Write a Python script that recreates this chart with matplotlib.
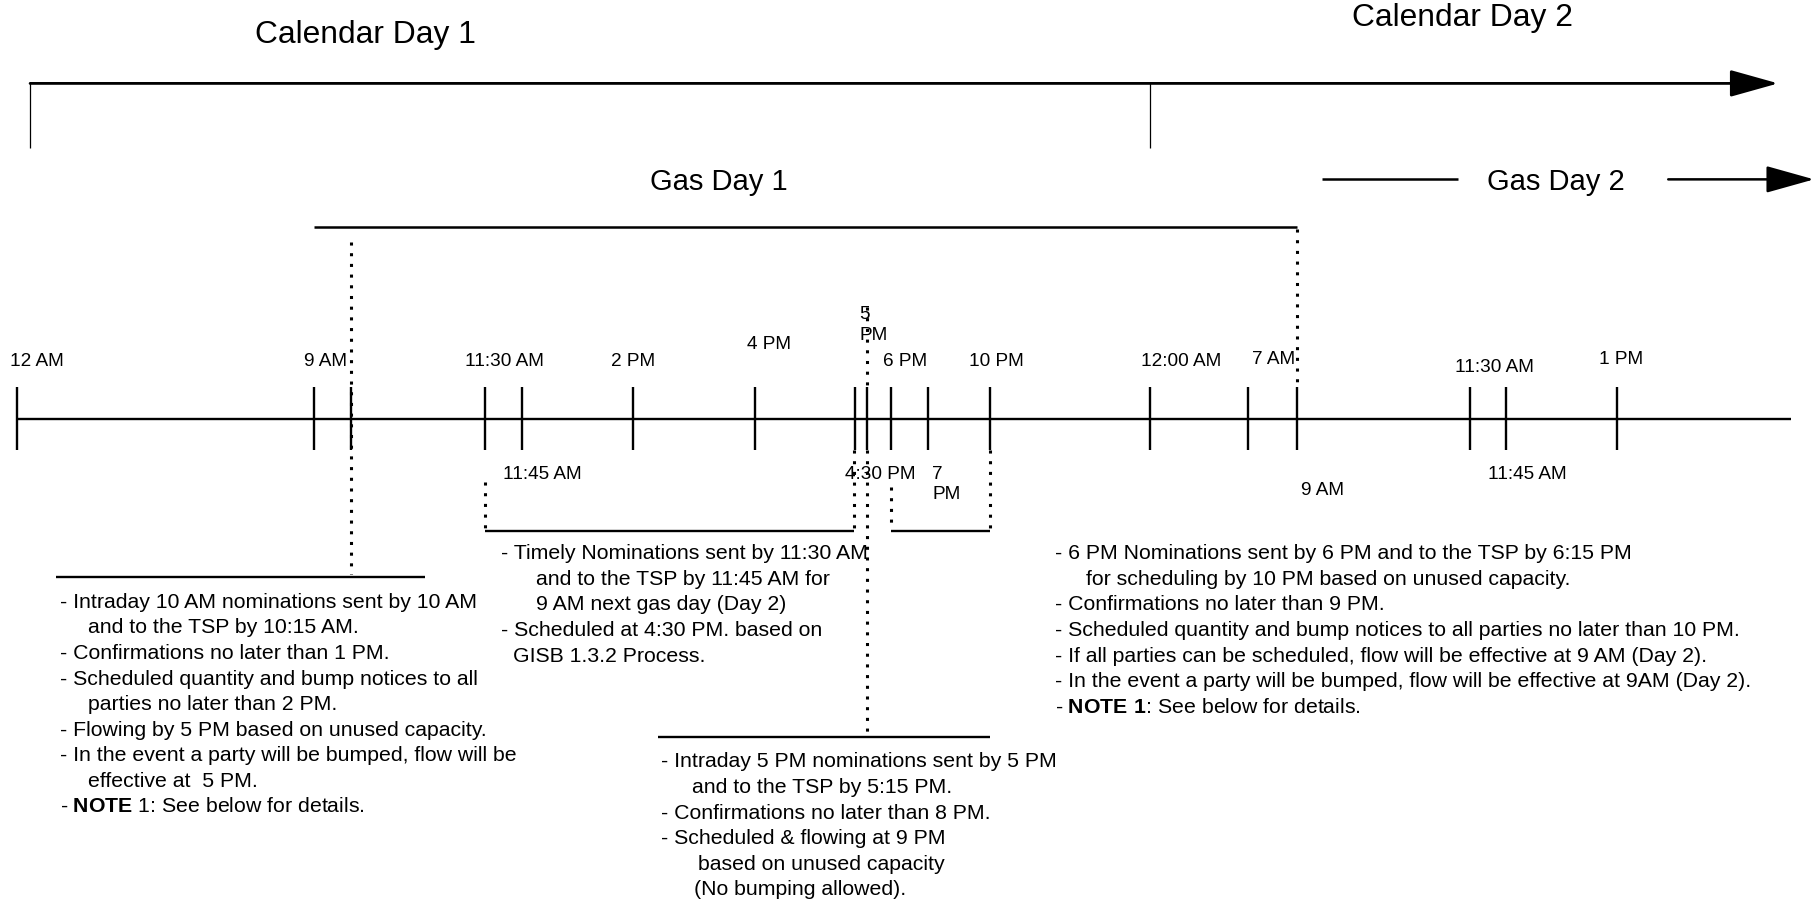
# Gas day / calendar day nomination timeline (schematic)
import matplotlib
matplotlib.use("Agg")
import matplotlib.pyplot as plt

OUT_PNG = "out.png"

# drawing canvas in schematic units (y grows downward)
W, H = 1568, 781

plt.rcParams["font.family"] = ["Liberation Sans", "DejaVu Sans"]
plt.rcParams["mathtext.fontset"] = "custom"
plt.rcParams["mathtext.rm"] = "Liberation Sans"
plt.rcParams["mathtext.bf"] = "Liberation Sans:bold"

# ---- data ----------------------------------------------------------------
# event marks on the timeline (schematic position, not linear in time)
tick_pos = [15, 271, 303, 419, 451, 547, 653, 739, 749, 770, 802, 856,
            994, 1079, 1121, 1271, 1302, 1398]

labels_above = ["12 AM", "9 AM", "11:30 AM", "2 PM", "4 PM", "5\nPM", "6 PM",
                "10 PM", "12:00 AM", "7 AM", "11:30 AM", "1 PM"]
labels_below = ["11:45 AM", "4:30 PM", "7\nPM", "9 AM", "11:45 AM"]

calendar_titles = ["Calendar Day 1", "Calendar Day 2"]
gas_titles = ["Gas Day 1", "Gas Day 2"]

block_intraday_am = [
    "- Intraday 10 AM nominations sent by 10 AM",
    "and to the TSP by 10:15 AM.",
    "- Confirmations no later than 1 PM.",
    "- Scheduled quantity and bump notices to all",
    "parties no later than 2 PM.",
    "- Flowing by 5 PM based on unused capacity.",
    "- In the event a party will be bumped, flow will be",
    "effective at  5 PM.",
    r"- $\mathbf{NOTE}$ 1: See below for details.",
]
block_timely = [
    "- Timely Nominations sent by 11:30 AM",
    "and to the TSP by 11:45 AM for",
    "9 AM next gas day (Day 2)",
    "- Scheduled at 4:30 PM. based on",
    "GISB 1.3.2 Process.",
]
block_intraday_pm = [
    "- Intraday 5 PM nominations sent by 5 PM",
    "and to the TSP by 5:15 PM.",
    "- Confirmations no later than 8 PM.",
    "- Scheduled & flowing at 9 PM",
    "based on unused capacity",
    "(No bumping allowed).",
]
block_evening = [
    "- 6 PM Nominations sent by 6 PM and to the TSP by 6:15 PM",
    "for scheduling by 10 PM based on unused capacity.",
    "- Confirmations no later than 9 PM.",
    "- Scheduled quantity and bump notices to all parties no later than 10 PM.",
    "- If all parties can be scheduled, flow will be effective at 9 AM (Day 2).",
    "- In the event a party will be bumped, flow will be effective at 9AM (Day 2).",
    r"- $\mathbf{NOTE\ 1}$: See below for details.",
]

# ---- layout ----------------------------------------------------------------
LINE_Y = 363
TICK_HALF = 27
above_xy = [(32, 313), (281, 313), (436, 313), (547, 313), (665, 298),
            (743, 281), (782, 313), (861, 313), (1021, 313), (1101, 311),
            (1292, 318), (1401, 311)]
below_xy = [(469, 410), (761, 410), (806, 419), (1143, 424), (1320, 410)]

# (lines, first x, continuation x, first y) per block
block_layout = [
    (block_intraday_am, 52, 76, 521),
    (block_timely, 433, 463, 479),
    (block_intraday_pm, 571, 598, 659),
    (block_evening, 912, 939, 479),
]
cont_x_override = {("GISB", 433): 443, ("based", 571): 603, ("(No", 571): 600}
LINE_STEP = 22.1

BODY_FS = 15.3
LABEL_FS = 13.7

DOT = dict(color="black", lw=2.2, linestyle=(0, (1, 2.5)))
SOLID = dict(color="black", lw=1.7)

fig = plt.figure(figsize=(18.14, 9.03), dpi=100)
ax = fig.add_axes([0, 0, 1, 1])
ax.set_xlim(0, W)
ax.set_ylim(H, 0)
ax.set_axis_off()

# calendar days
ax.text(316, 30, calendar_titles[0], fontsize=22.9, ha="center", va="center")
ax.text(1264, 16, calendar_titles[1], fontsize=22.9, ha="center", va="center")
ax.annotate("", xy=(1537, 73), xytext=(26, 73),
            arrowprops=dict(arrowstyle="-|>,head_length=1.5,head_width=0.42",
                            mutation_scale=20, color="black", lw=2.0,
                            shrinkA=0, shrinkB=0))
ax.vlines([26, 994], 73, 129, color="black", lw=0.9)

# gas days
ax.text(621, 157, gas_titles[0], fontsize=21, ha="center", va="center")
ax.text(1345, 157, gas_titles[1], fontsize=21, ha="center", va="center")
ax.hlines(156, 1143, 1260, color="black", lw=1.8)
ax.annotate("", xy=(1568, 156), xytext=(1442, 156),
            arrowprops=dict(arrowstyle="-|>,head_length=1.5,head_width=0.42",
                            mutation_scale=20, color="black", lw=1.8,
                            shrinkA=0, shrinkB=0))
ax.hlines(197, 271, 1121, color="black", lw=1.8)

# main timeline
ax.hlines(LINE_Y, 15, 1548, **SOLID)
ax.vlines(tick_pos, LINE_Y - TICK_HALF, LINE_Y + TICK_HALF, **SOLID)

for lab, (x, y) in zip(labels_above, above_xy):
    ha = "left" if "\n" in lab else "center"
    ax.text(x, y, lab, fontsize=LABEL_FS, ha=ha, va="center", linespacing=1.25)
for lab, (x, y) in zip(labels_below, below_xy):
    ha = "left" if "\n" in lab else "center"
    ax.text(x, y, lab, fontsize=LABEL_FS, ha=ha, va="center", linespacing=1.25)

# dotted leaders and brackets
ax.plot([303, 303], [210, 497], **DOT)
ax.hlines(500, 48, 367, **SOLID)
ax.plot([1121, 1121], [199, LINE_Y - TICK_HALF], **DOT)
ax.plot([749, 749], [266, LINE_Y - TICK_HALF], **DOT)
ax.plot([749, 749], [LINE_Y + TICK_HALF, 636], **DOT)
ax.hlines(638, 569, 856, **SOLID)
ax.plot([419, 419], [418, 458], **DOT)
ax.plot([738, 738], [LINE_Y + TICK_HALF, 458], **DOT)
ax.hlines(460, 419, 738, **SOLID)
ax.plot([770, 770], [422, 458], **DOT)
ax.plot([856, 856], [LINE_Y + TICK_HALF, 458], **DOT)
ax.hlines(460, 770, 856, **SOLID)

# text blocks
for lines, x0, xc, y0 in block_layout:
    for i, s in enumerate(lines):
        if s.startswith("-"):
            x = x0
        else:
            x = cont_x_override.get((s.split()[0], x0), xc)
        ax.text(x, y0 + i * LINE_STEP, s, fontsize=BODY_FS, ha="left", va="center")

fig.savefig(OUT_PNG, dpi=100)
print("DONE:", OUT_PNG)
